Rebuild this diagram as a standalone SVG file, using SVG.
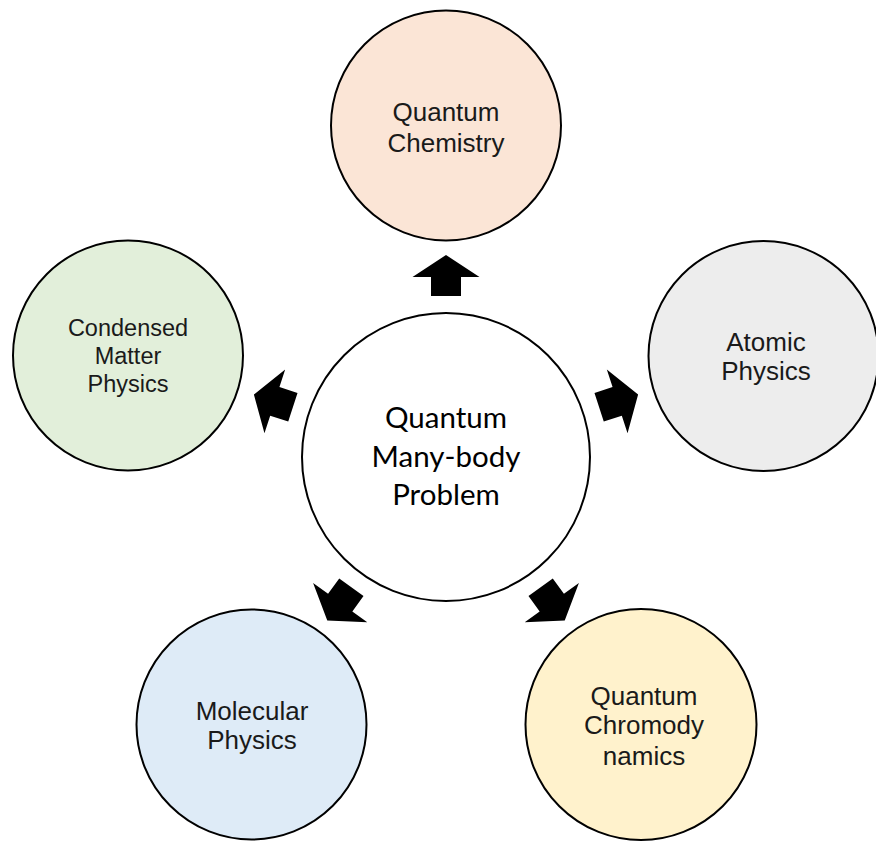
<svg xmlns="http://www.w3.org/2000/svg" width="876" height="841" viewBox="0 0 876 841">
<style>
.node{stroke:#000;stroke-width:2}
.lbl{font-family:"Liberation Sans",Arial,sans-serif;font-size:26px;fill:#1a1a1a;text-anchor:middle}
.clbl{font-family:Lato,"Open Sans",sans-serif;font-size:29.5px;fill:#000;text-anchor:middle}
.arr{fill:#000}
</style>
<defs>
<path id="arrow" d="M0,-202 L33.5,-180 L15,-180 L15,-161 L-15,-161 L-15,-180 L-33.5,-180 Z"/>
</defs>
<rect width="876" height="841" fill="#fff"/>
<g id="connectors" class="arr">
<use href="#arrow" transform="translate(446,457)"/>
<use href="#arrow" transform="translate(446,457) rotate(-72)"/>
<use href="#arrow" transform="translate(446,457) rotate(72)"/>
<use href="#arrow" transform="translate(446,457) rotate(-144)"/>
<use href="#arrow" transform="translate(446,457) rotate(144)"/>
</g>
<g id="center">
<circle class="node" cx="446" cy="457" r="144" fill="#fff"/>
<text class="clbl" x="446" y="428">Quantum</text>
<text class="clbl" x="446" y="467">Many-body</text>
<text class="clbl" x="446" y="505">Problem</text>
</g>
<g id="chemistry">
<circle class="node" cx="446" cy="125.5" r="115" fill="#FBE5D6"/>
<text class="lbl" x="446" y="121">Quantum</text>
<text class="lbl" x="446" y="152">Chemistry</text>
</g>
<g id="condensed">
<circle class="node" cx="128" cy="355.5" r="115" fill="#E2EFDA"/>
<text class="lbl" x="128" y="336" style="font-size:23.5px">Condensed</text>
<text class="lbl" x="128" y="364" style="font-size:23.5px">Matter</text>
<text class="lbl" x="128" y="392" style="font-size:23.5px">Physics</text>
</g>
<g id="atomic">
<circle class="node" cx="763.5" cy="356" r="115" fill="#EDEDED"/>
<text class="lbl" x="766" y="351">Atomic</text>
<text class="lbl" x="766" y="380">Physics</text>
</g>
<g id="molecular">
<circle class="node" cx="251.5" cy="724.5" r="115" fill="#DEEBF7"/>
<text class="lbl" x="252" y="720">Molecular</text>
<text class="lbl" x="252" y="749">Physics</text>
</g>
<g id="chromodynamics">
<circle class="node" cx="641" cy="724.5" r="115.5" fill="#FFF2CC"/>
<text class="lbl" x="644" y="705">Quantum</text>
<text class="lbl" x="644" y="734">Chromody</text>
<text class="lbl" x="644" y="765">namics</text>
</g>
</svg>
